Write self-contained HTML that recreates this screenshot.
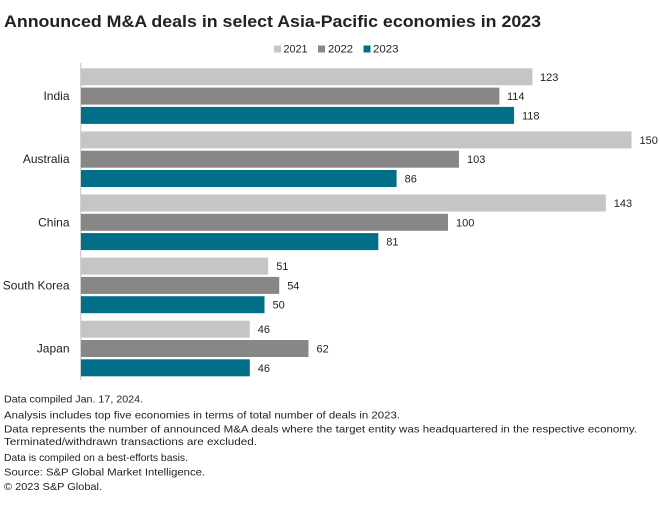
<!DOCTYPE html>
<html>
<head>
<meta charset="utf-8">
<style>
  html, body { margin: 0; padding: 0; background: #ffffff; }
  body { width: 660px; height: 505px; overflow: hidden; }
  svg { display: block; }
  text { font-family: "Liberation Sans", sans-serif; fill: #222222; }
</style>
</head>
<body>
<svg width="660" height="505" viewBox="0 0 660 505" xmlns="http://www.w3.org/2000/svg">
  <rect x="0" y="0" width="660" height="505" fill="#ffffff"/>

  <!-- Title -->
  <text x="4" y="27" font-size="17" font-weight="bold" textLength="537" lengthAdjust="spacingAndGlyphs" fill="#111111">Announced M&amp;A deals in select Asia-Pacific economies in 2023</text>

  <!-- Legend -->
  <rect x="274" y="45.5" width="7" height="7" fill="#c4c5c4"/>
  <text x="283.5" y="52.7" font-size="11" textLength="24" lengthAdjust="spacingAndGlyphs">2021</text>
  <rect x="318" y="45.5" width="7" height="7" fill="#878787"/>
  <text x="328" y="52.7" font-size="11" textLength="25" lengthAdjust="spacingAndGlyphs">2022</text>
  <rect x="363.5" y="45.5" width="7" height="7" fill="#006f87"/>
  <text x="373" y="52.7" font-size="11" textLength="25.5" lengthAdjust="spacingAndGlyphs">2023</text>

  <!-- Axis line -->
  <line x1="80.7" y1="63" x2="80.7" y2="380" stroke="#d0d0d0" stroke-width="1.3"/>

  <!-- India (top 68.3) -->
  <g>
    <rect x="81" y="68.3" width="451.4" height="17" fill="#c4c5c4"/>
    <rect x="81" y="87.6" width="418.4" height="17" fill="#878787"/>
    <rect x="81" y="106.9" width="433.1" height="17" fill="#006f87"/>
    <text x="540" y="80.8" font-size="11">123</text>
    <text x="507" y="100.1" font-size="11">114</text>
    <text x="522" y="119.4" font-size="11">118</text>
    <text x="69.5" y="100.1" font-size="12" text-anchor="end">India</text>
  </g>

  <!-- Australia (top 131.4) -->
  <g>
    <rect x="81" y="131.4" width="550.5" height="17" fill="#c4c5c4"/>
    <rect x="81" y="150.7" width="378" height="17" fill="#878787"/>
    <rect x="81" y="170" width="315.6" height="17" fill="#006f87"/>
    <text x="639.5" y="143.9" font-size="11">150</text>
    <text x="467" y="163.2" font-size="11">103</text>
    <text x="404.6" y="182.5" font-size="11">86</text>
    <text x="69.5" y="163.2" font-size="12" text-anchor="end">Australia</text>
  </g>

  <!-- China (top 194.5) -->
  <g>
    <rect x="81" y="194.5" width="524.8" height="17" fill="#c4c5c4"/>
    <rect x="81" y="213.8" width="367" height="17" fill="#878787"/>
    <rect x="81" y="233.1" width="297.3" height="17" fill="#006f87"/>
    <text x="613.8" y="207" font-size="11">143</text>
    <text x="456" y="226.3" font-size="11">100</text>
    <text x="386.3" y="245.6" font-size="11">81</text>
    <text x="69.5" y="226.3" font-size="12" text-anchor="end">China</text>
  </g>

  <!-- South Korea (top 257.6) -->
  <g>
    <rect x="81" y="257.6" width="187.2" height="17" fill="#c4c5c4"/>
    <rect x="81" y="276.9" width="198.2" height="17" fill="#878787"/>
    <rect x="81" y="296.2" width="183.5" height="17" fill="#006f87"/>
    <text x="276.2" y="270.1" font-size="11">51</text>
    <text x="287.2" y="289.4" font-size="11">54</text>
    <text x="272.5" y="308.7" font-size="11">50</text>
    <text x="69.5" y="289.4" font-size="12" text-anchor="end">South Korea</text>
  </g>

  <!-- Japan (top 320.7) -->
  <g>
    <rect x="81" y="320.7" width="168.8" height="17" fill="#c4c5c4"/>
    <rect x="81" y="340" width="227.5" height="17" fill="#878787"/>
    <rect x="81" y="359.3" width="168.8" height="17" fill="#006f87"/>
    <text x="257.8" y="333.2" font-size="11">46</text>
    <text x="316.5" y="352.5" font-size="11">62</text>
    <text x="257.8" y="371.8" font-size="11">46</text>
    <text x="69.5" y="352.5" font-size="12" text-anchor="end">Japan</text>
  </g>

  <!-- Footnotes -->
  <g font-size="10.5">
    <text x="4" y="402.3" textLength="139" lengthAdjust="spacingAndGlyphs">Data compiled Jan. 17, 2024.</text>
    <text x="4" y="418.3" textLength="396" lengthAdjust="spacingAndGlyphs">Analysis includes top five economies in terms of total number of deals in 2023.</text>
    <text x="4" y="432.7" textLength="633" lengthAdjust="spacingAndGlyphs">Data represents the number of announced M&amp;A deals where the target entity was headquartered in the respective economy.</text>
    <text x="4" y="445" textLength="253" lengthAdjust="spacingAndGlyphs">Terminated/withdrawn transactions are excluded.</text>
    <text x="4" y="461" textLength="184" lengthAdjust="spacingAndGlyphs">Data is compiled on a best-efforts basis.</text>
    <text x="4" y="475.7" textLength="201" lengthAdjust="spacingAndGlyphs">Source: S&amp;P Global Market Intelligence.</text>
    <text x="4" y="490" textLength="98" lengthAdjust="spacingAndGlyphs">© 2023 S&amp;P Global.</text>
  </g>
</svg>
</body>
</html>
